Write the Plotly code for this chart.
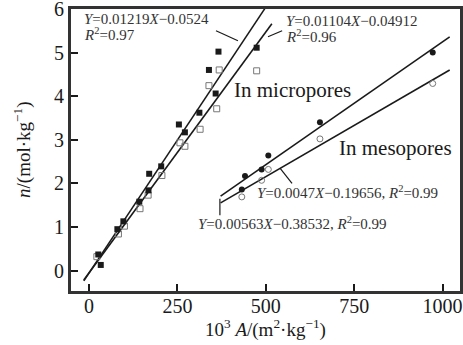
import plotly.graph_objects as go

# Micropore data
micro_filled_x = [33, 26, 80, 97, 142, 168, 170, 204, 254, 271, 312, 339, 358, 366, 474]
micro_filled_y = [0.13, 0.37, 0.95, 1.13, 1.58, 1.84, 2.22, 2.39, 3.35, 3.17, 3.62, 4.60, 4.06, 5.02, 5.11]
micro_open_x = [22, 83, 100, 144, 167, 206, 257, 271, 314, 339, 368, 361, 474]
micro_open_y = [0.32, 0.84, 1.02, 1.42, 1.73, 2.18, 2.93, 2.85, 3.24, 4.24, 4.60, 3.71, 4.58]

# Mesopore data
meso_filled_x = [432, 441, 488, 507, 653, 972]
meso_filled_y = [1.86, 2.17, 2.32, 2.64, 3.40, 5.00]
meso_open_x = [432, 488, 507, 653, 972]
meso_open_y = [1.69, 2.07, 2.32, 3.02, 4.29]

# Fitted lines: slope, intercept, x-range
fit_slopes = [0.01219, 0.01104, 0.00563, 0.0047]
fit_intercepts = [-0.0524, -0.04912, -0.38532, -0.19656]
fit_x0 = [-15, -15, 372, 372]
fit_x1 = [497, 517, 1020, 1020]

eq_labels = [
    "<i>Y</i>=0.01219<i>X</i>−0.0524",
    "<i>R</i><sup>2</sup>=0.97",
    "<i>Y</i>=0.01104<i>X</i>−0.04912",
    "<i>R</i><sup>2</sup>=0.96",
    "<i>Y</i>=0.0047<i>X</i>−0.19656, <i>R</i><sup>2</sup>=0.99",
    "<i>Y</i>=0.00563<i>X</i>−0.38532, <i>R</i><sup>2</sup>=0.99",
]
region_labels = ["In micropores", "In mesopores"]

x_ticks = [0, 250, 500, 750, 1000]
y_ticks = [0, 1, 2, 3, 4, 5, 6]

FONT = "Liberation Serif"
INK = "#1a1a1a"

fig = go.Figure()

for s, b, a0, a1 in zip(fit_slopes, fit_intercepts, fit_x0, fit_x1):
    fig.add_trace(go.Scatter(x=[a0, a1], y=[s * a0 + b, s * a1 + b], mode="lines",
                             line=dict(color=INK, width=1.6), showlegend=False, hoverinfo="skip"))

fig.add_trace(go.Scatter(x=micro_open_x, y=micro_open_y, mode="markers",
                         marker=dict(symbol="square-open", size=6, color="#777", line=dict(width=1)),
                         showlegend=False))
fig.add_trace(go.Scatter(x=micro_filled_x, y=micro_filled_y, mode="markers",
                         marker=dict(symbol="square", size=6, color=INK), showlegend=False))
fig.add_trace(go.Scatter(x=meso_open_x, y=meso_open_y, mode="markers",
                         marker=dict(symbol="circle-open", size=6, color="#777", line=dict(width=1)),
                         showlegend=False))
fig.add_trace(go.Scatter(x=meso_filled_x, y=meso_filled_y, mode="markers",
                         marker=dict(symbol="circle", size=6, color=INK), showlegend=False))

# Equation annotations
eq_pos = [(-20, 5.77), (-20, 5.43), (551, 5.72), (551, 5.38), (469, 1.80), (303, 1.09)]
for txt, (ax_, ay_) in zip(eq_labels, eq_pos):
    fig.add_annotation(x=ax_, y=ay_, xref="x", yref="y", text=txt, showarrow=False,
                       xanchor="left", yanchor="middle",
                       font=dict(family=FONT, size=15, color="#333"))

reg_pos = [(405, 4.13), (700, 2.80)]
for txt, (ax_, ay_) in zip(region_labels, reg_pos):
    fig.add_annotation(x=ax_, y=ay_, xref="x", yref="y", text=txt, showarrow=False,
                       xanchor="left", yanchor="middle",
                       font=dict(family=FONT, size=21, color=INK))

# Axis titles
fig.add_annotation(x=0.5, y=-0.13, xref="paper", yref="paper", showarrow=False,
                   xanchor="center", yanchor="middle",
                   text="10<sup>3</sup> <i>A</i>/(m<sup>2</sup>·kg<sup>−1</sup>)",
                   font=dict(family=FONT, size=19, color=INK))
fig.add_annotation(x=-0.123, y=0.5, xref="paper", yref="paper", showarrow=False,
                   xanchor="center", yanchor="middle", textangle=-90,
                   text="<i>n</i>/(mol·kg<sup>−1</sup>)",
                   font=dict(family=FONT, size=19, color=INK))

# Leader lines
leaders = [((359, 5.50), (421, 5.27)), ((546, 5.50), (506, 5.36)),
           ((540, 2.35), (574, 2.00)), ((370, 1.65), (370, 1.27))]
for (x0, y0), (x1, y1) in leaders:
    fig.add_shape(type="line", x0=x0, y0=y0, x1=x1, y1=y1, xref="x", yref="y",
                  line=dict(color=INK, width=1.2))

# Frame
fig.add_shape(type="rect", x0=0, y0=0, x1=1, y1=1, xref="paper", yref="paper",
              line=dict(color="#333", width=2), layer="above")

fig.update_layout(
    width=463, height=345,
    margin=dict(l=70, r=2, t=8, b=53, autoexpand=False),
    paper_bgcolor="white", plot_bgcolor="white",
    font=dict(family=FONT, size=20, color=INK),
    xaxis=dict(range=[-54, 1052], tickvals=x_ticks, ticks="inside", ticklen=8,
               tickwidth=1.5, tickcolor=INK, showline=True, linecolor="#333", linewidth=2,
               mirror=True, showgrid=False, zeroline=False, automargin=False,
               ticklabelstandoff=-5, ticklabeloverflow="allow",
               tickfont=dict(family=FONT, size=20, color=INK)),
    yaxis=dict(range=[-0.49, 6.02], tickvals=y_ticks, ticks="inside", ticklen=8,
               tickwidth=1.5, tickcolor=INK, showline=True, linecolor="#333", linewidth=2,
               mirror=True, showgrid=False, zeroline=False, automargin=False,
               ticklabeloverflow="allow",
               tickfont=dict(family=FONT, size=20, color=INK)),
)

fig.write_html("out.html", config={"displayModeBar": False},
               post_script="document.body.style.margin='0';document.body.style.overflow='hidden';")
